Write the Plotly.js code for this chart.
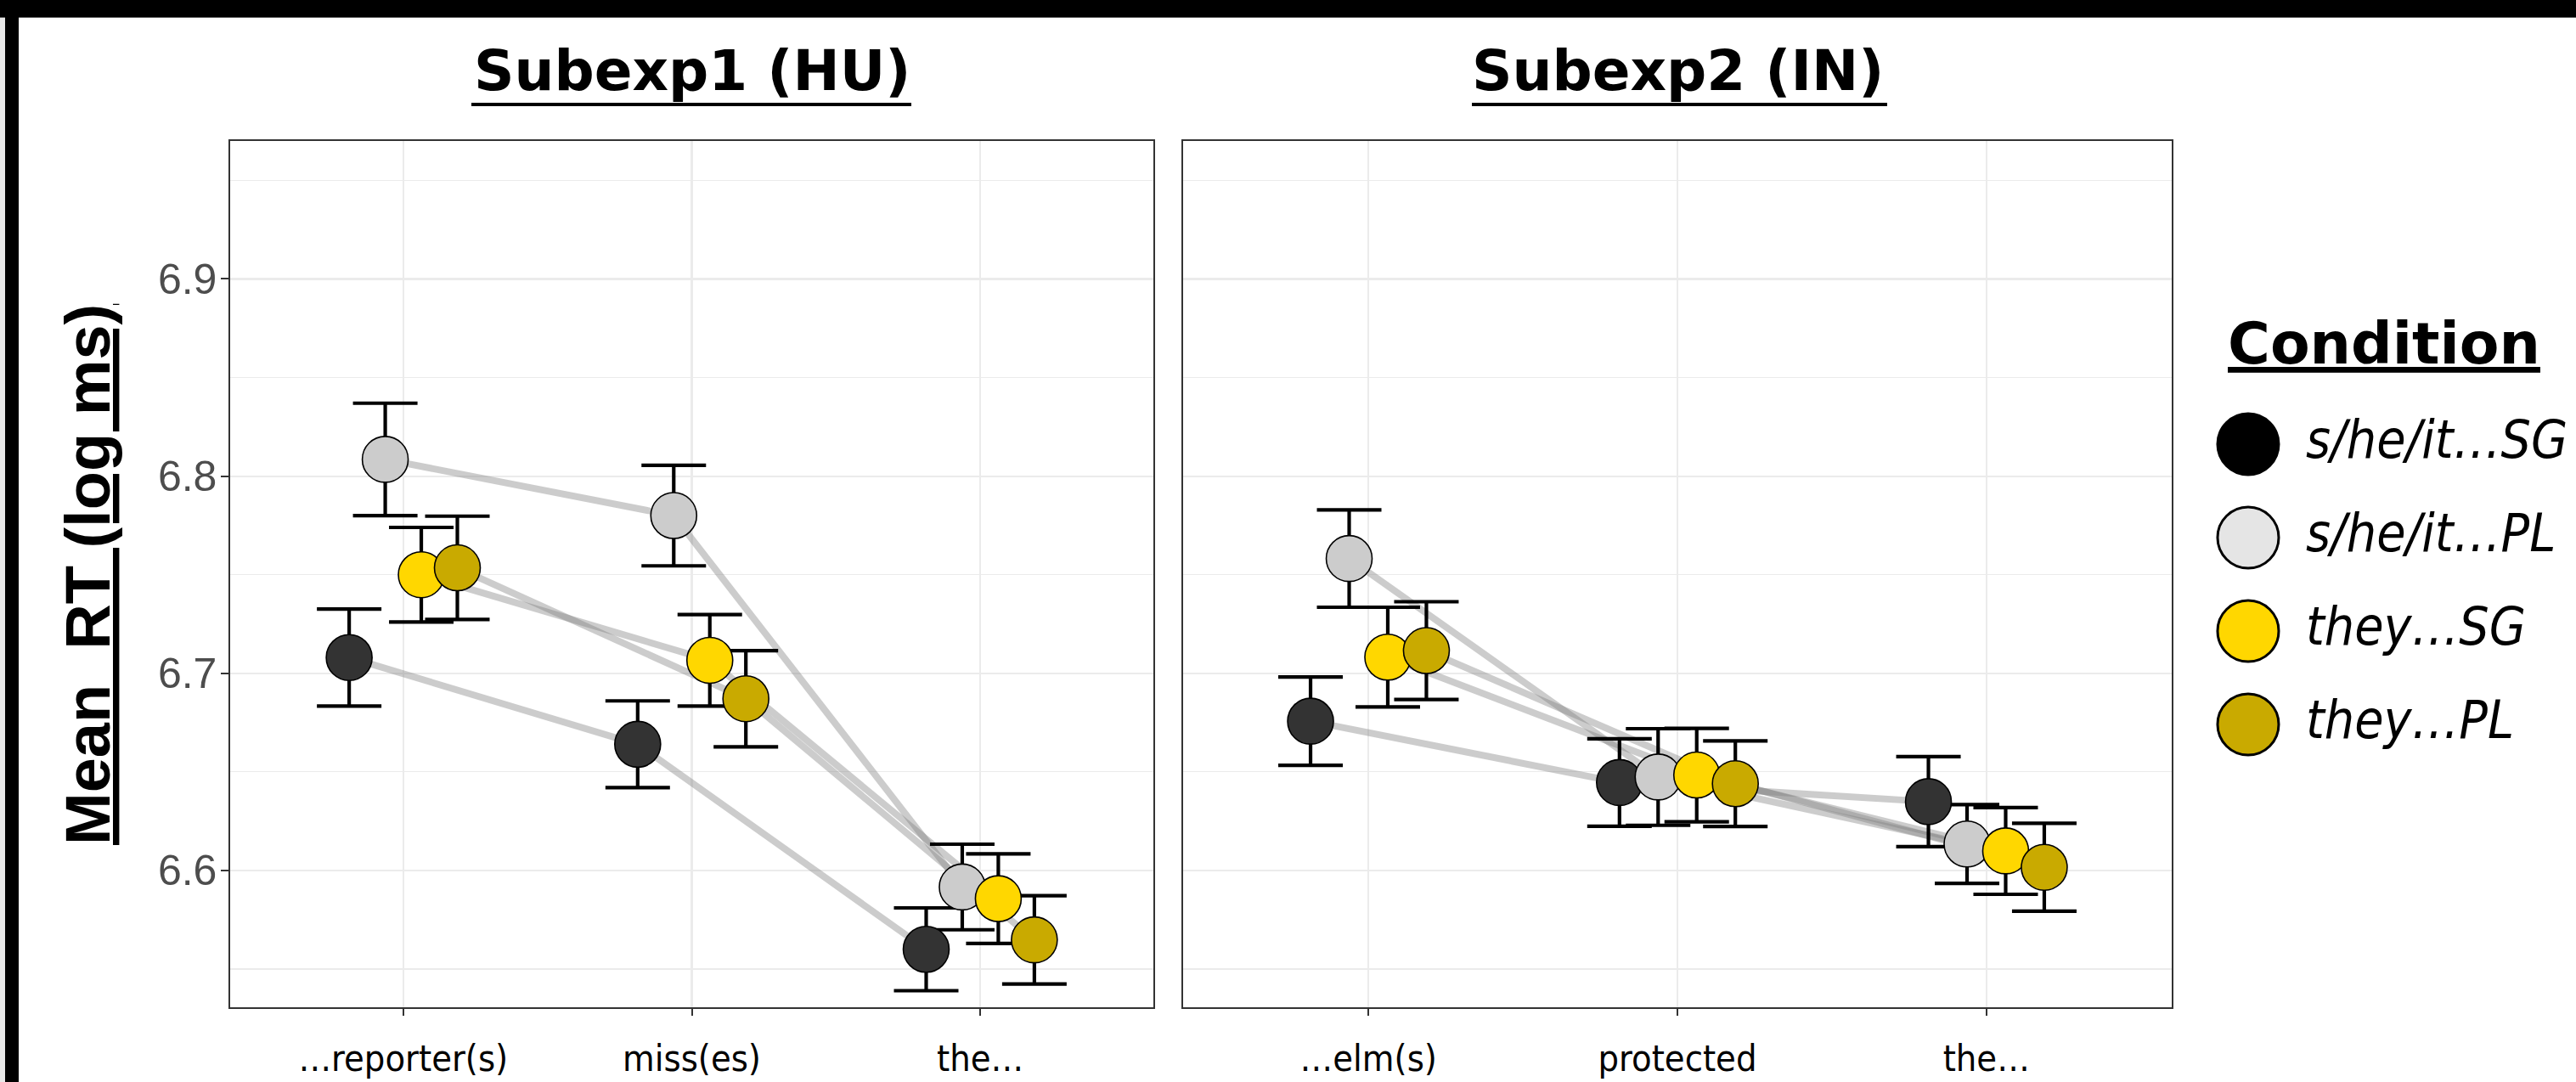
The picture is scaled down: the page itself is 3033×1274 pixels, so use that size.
<!DOCTYPE html>
<html>
<head>
<meta charset="utf-8">
<script src="https://cdn.plot.ly/plotly-3.0.1.min.js"></script>
<style>
  html, body { margin: 0; padding: 0; background: #ffffff; }
  #wrap { position: relative; width: 3033px; height: 1274px; overflow: hidden; }
  #chart { position: absolute; left: 0; top: 0; width: 3033px; height: 1274px; }
  #topbar { position: absolute; left: 0; top: 0; width: 3033px; height: 20px; background: #000; border-bottom: 1px solid #555; z-index: 5; }
  #leftstrip { position: absolute; left: 0; top: 0; width: 6px; height: 1274px; background: #e8e8e8; z-index: 4; }
  #leftbar { position: absolute; left: 6px; top: 0; width: 16px; height: 1274px; background: #000; z-index: 6; }
</style>
</head>
<body>
<div id="wrap">
  <div id="chart"></div>
  <div id="leftstrip"></div>
  <div id="topbar"></div>
  <div id="leftbar"></div>
</div>
<script>
// ---------------- DATA ----------------
const conditions = ["s/he/it…SG", "s/he/it…PL", "they…SG", "they…PL"];
const panelTitles = ["Subexp1 (HU)", "Subexp2 (IN)"];
const regions1 = ["…reporter(s)", "miss(es)", "the…"];
const regions2 = ["…elm(s)", "protected", "the…"];
const yTickVals = [6.6, 6.7, 6.8, 6.9];

// Subexp1 (HU): mean log RT per condition, per region
const hu_sgSG = [6.708, 6.664, 6.560];
const hu_sgPL = [6.8085, 6.780, 6.5916];
const hu_theySG = [6.750, 6.7066, 6.5857];
const hu_theyPL = [6.7535, 6.6871, 6.5648];
// Subexp1 standard errors
const hu_se_sgSG = [0.0246, 0.0220, 0.0210];
const hu_se_sgPL = [0.0285, 0.0255, 0.0217];
const hu_se_theySG = [0.0240, 0.0232, 0.0227];
const hu_se_theyPL = [0.0262, 0.0244, 0.0224];

// Subexp2 (IN)
const in_sgSG = [6.6757, 6.6446, 6.6349];
const in_sgPL = [6.7582, 6.6474, 6.6134];
const in_theySG = [6.7082, 6.6484, 6.6099];
const in_theyPL = [6.7115, 6.6440, 6.6016];
const in_se_sgSG = [0.0224, 0.0222, 0.0228];
const in_se_sgPL = [0.0247, 0.0245, 0.0200];
const in_se_theySG = [0.0253, 0.0237, 0.0220];
const in_se_theyPL = [0.0248, 0.0217, 0.0223];

// ---------------- STYLE ----------------
const W = 3033, H = 1274;
const pointColors = ["#333333", "#CCCCCC", "#FFD700", "#C9AA00"];
const legendColors = ["#000000", "#E5E5E5", "#FFD700", "#C9AA00"];
const dodge = [-0.1875, -0.0625, 0.0625, 0.1875];
const narrow = "'Liberation Sans Narrow', 'Arial Narrow', 'DejaVu Sans Condensed', sans-serif";

const panels = [
  { means: [hu_sgSG, hu_sgPL, hu_theySG, hu_theyPL],
    ses: [hu_se_sgSG, hu_se_sgPL, hu_se_theySG, hu_se_theyPL], xa: "x", ya: "y" },
  { means: [in_sgSG, in_sgPL, in_theySG, in_theyPL],
    ses: [in_se_sgSG, in_se_sgPL, in_se_theySG, in_se_theyPL], xa: "x2", ya: "y2" }
];

const traces = [];
panels.forEach(p => {
  // connecting lines
  p.means.forEach((m, i) => {
    traces.push({
      type: "scatter", mode: "lines", xaxis: p.xa, yaxis: p.ya,
      x: m.map((_, k) => k + 1 + dodge[i]), y: m,
      line: { color: "rgba(128,128,128,0.4)", width: 8 },
      showlegend: false, hoverinfo: "skip"
    });
  });
  // error bars
  p.means.forEach((m, i) => {
    traces.push({
      type: "scatter", mode: "markers", xaxis: p.xa, yaxis: p.ya,
      x: m.map((_, k) => k + 1 + dodge[i]), y: m,
      marker: { size: 1, color: "rgba(0,0,0,0)" },
      error_y: { type: "data", array: p.ses[i], visible: true, color: "#000000", thickness: 4.2, width: 38 },
      showlegend: false, hoverinfo: "skip"
    });
  });
  // points
  p.means.forEach((m, i) => {
    traces.push({
      type: "scatter", mode: "markers", xaxis: p.xa, yaxis: p.ya,
      x: m.map((_, k) => k + 1 + dodge[i]), y: m,
      name: conditions[i],
      marker: { size: 54, color: pointColors[i], line: { color: "#000000", width: 1.6 } },
      showlegend: false
    });
  });
});

// manual legend (large keys)
traces.push({
  type: "scatter", mode: "markers", xaxis: "x3", yaxis: "y3",
  x: conditions.map(() => 0.1085), y: conditions.map((_, i) => i),
  marker: { size: 72, color: legendColors, line: { color: "#000000", width: 3 } },
  showlegend: false, hoverinfo: "skip"
});
traces.push({
  type: "scatter", mode: "text", xaxis: "x3", yaxis: "y3",
  x: conditions.map(() => 0.2656), y: conditions.map((_, i) => i),
  text: conditions, textposition: "middle right",
  textfont: { family: narrow, size: 62, color: "#000000", style: "italic" },
  showlegend: false, hoverinfo: "skip"
});

const yDom = [1 - 1186 / H, 1 - 166 / H];
const gridC = "#EBEBEB";
const commonX = {
  range: [0.4, 3.6], tickvals: [1, 2, 3], showgrid: true, gridcolor: gridC, gridwidth: 2.2,
  zeroline: false, showline: true, mirror: true, linecolor: "#333333", linewidth: 1.6,
  ticks: "outside", ticklen: 8, tickwidth: 2, tickcolor: "#333333", ticklabelstandoff: 14,
  tickfont: { family: narrow, size: 43, color: "#000000" }, fixedrange: true
};
const commonY = {
  range: [6.5306, 6.970], domain: yDom, tickvals: yTickVals, tickformat: ".1f",
  showgrid: true, gridcolor: gridC, gridwidth: 2.2, zeroline: false,
  showline: true, mirror: true, linecolor: "#333333", linewidth: 1.6,
  minor: { dtick: 0.05, tick0: 6.55, showgrid: true, gridcolor: gridC, gridwidth: 1.2, ticks: "" },
  fixedrange: true
};

const titleFont = { family: "'DejaVu Sans', sans-serif", size: 66, color: "#000000" };

const layout = {
  width: W, height: H,
  margin: { l: 0, r: 0, t: 0, b: 0 },
  paper_bgcolor: "#ffffff", plot_bgcolor: "#ffffff",
  showlegend: false,
  xaxis: Object.assign({}, commonX, { domain: [271 / W, 1358 / W], anchor: "y", ticktext: regions1 }),
  xaxis2: Object.assign({}, commonX, { domain: [1393 / W, 2557 / W], anchor: "y2", ticktext: regions2 }),
  yaxis: Object.assign({}, commonY, { anchor: "x", ticks: "outside", ticklen: 9, tickwidth: 2, tickcolor: "#333333",
    ticklabelstandoff: -5,
    tickfont: { family: "'Liberation Sans', Arial, sans-serif", size: 50, color: "#4D4D4D" } }),
  yaxis2: Object.assign({}, commonY, { anchor: "x2", matches: "y", showticklabels: false, ticks: "" }),
  xaxis3: { domain: [2600 / W, 1], range: [0, 1], visible: false, anchor: "y3", fixedrange: true },
  yaxis3: { domain: [1 - 908 / H, 1 - 468 / H], range: [3.5, -0.5], visible: false, anchor: "x3", fixedrange: true },
  shapes: [
    // underlines of the two panel titles
    { type: "line", xref: "paper", yref: "paper", x0: 555 / W, x1: 1073 / W, y0: 1 - 123 / H, y1: 1 - 123 / H,
      line: { color: "#000000", width: 4 } },
    { type: "line", xref: "paper", yref: "paper", x0: 1733 / W, x1: 2222 / W, y0: 1 - 123 / H, y1: 1 - 123 / H,
      line: { color: "#000000", width: 4 } }
  ],
  annotations: [
    { text: "<b>" + panelTitles[0] + "</b>", xref: "paper", yref: "paper",
      x: (271 + 1358) / 2 / W, y: 1 - 84 / H, xanchor: "center", yanchor: "middle", showarrow: false,
      font: titleFont },
    { text: "<b>" + panelTitles[1] + "</b>", xref: "paper", yref: "paper",
      x: (1393 + 2557) / 2 / W, y: 1 - 84 / H, xanchor: "center", yanchor: "middle", showarrow: false,
      font: titleFont },
    { text: "<b><u>Mean  RT (log ms)</u></b>", xref: "paper", yref: "paper",
      x: 103 / W, y: 1 - 677 / H, xanchor: "center", yanchor: "middle", textangle: -90, showarrow: false,
      font: { family: "'Liberation Sans', Arial, sans-serif", size: 74, color: "#000000" } },
    { text: "<b><u>Condition</u></b>", xref: "paper", yref: "paper",
      x: 2807 / W, y: 1 - 404 / H, xanchor: "center", yanchor: "middle", showarrow: false,
      font: { family: "'DejaVu Sans', sans-serif", size: 68, color: "#000000" } }
  ]
};

Plotly.newPlot("chart", traces, layout, { staticPlot: true, displayModeBar: false });
</script>
</body>
</html>
